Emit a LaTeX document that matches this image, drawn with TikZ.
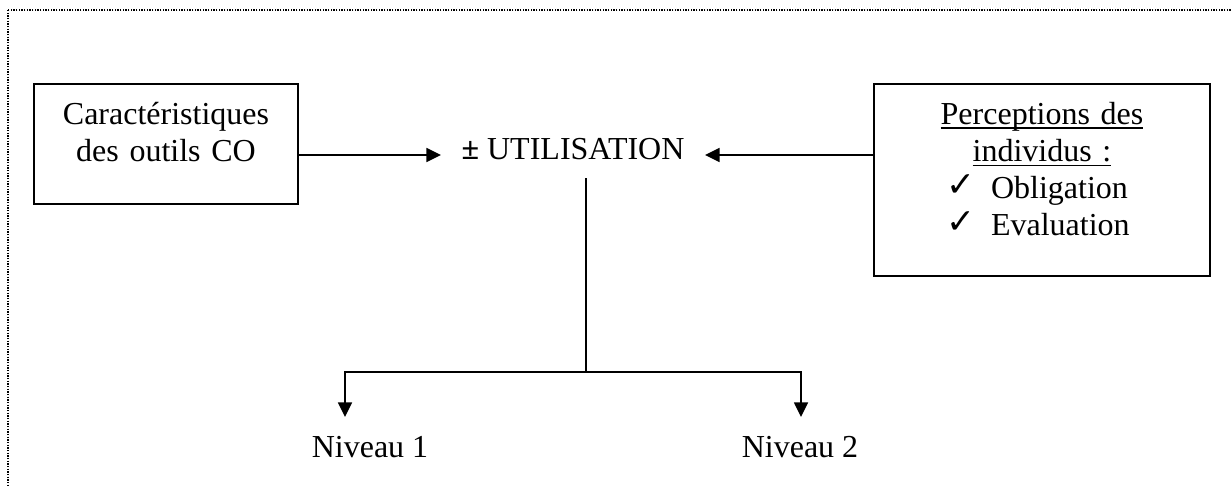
\documentclass[tikz,border=0pt]{standalone}
\usepackage{fontspec}
\setmainfont{Liberation Serif}
\newfontfamily\symbfont{DejaVu Sans}
\usetikzlibrary{arrows.meta}
\newcommand\soulign[1]{\leavevmode\setbox0\hbox{#1}\rlap{\rule[-1.9pt]{\wd0}{0.6pt}}\box0}
\newcommand\coche[1]{\makebox[\linewidth][l]{\hspace{27pt}\makebox[16.9pt][l]{\raisebox{0.6pt}{\symbfont\fontsize{13}{13}\selectfont ✓}}#1}}
\begin{document}
\begin{tikzpicture}[x=0.375pt,y=-0.375pt,font=\fontsize{12}{13.9}\selectfont,
  boite/.style={draw,line width=0.75pt,inner sep=0pt,align=center,anchor=north west,text height=15pt},
  fleche/.style={line width=0.75pt,-{Triangle[length=5.5pt,width=5.2pt]}},
  cadre/.style={line width=0.6pt,dash pattern=on 0.5pt off 0.5pt}]
\useasboundingbox (0,0) rectangle (1231,486);
\clip (0,0) rectangle (1231,486);
\draw[cadre] (8,10) rectangle (1260,520);
\node[boite,text width=99pt,text depth=30pt] (carac) at (33,83) {Caractéristiques\\des outils CO};
\node[boite,text width=126pt,text depth=57pt] (percep) at (873,83) {\soulign{Perceptions des}\\\soulign{individus :}\\\coche{Obligation}\\\coche{Evaluation}};
\node[anchor=base,inner xsep=7.5pt,inner ysep=2.1pt,text height=8pt,text depth=5pt] (util) at (573,159) {\textbf{±} UTILISATION};
\node[anchor=base] (niv1) at (370,457) {Niveau 1};
\node[anchor=base] (niv2) at (800,457) {Niveau 2};
\coordinate (split) at (586,372);
\coordinate (tip1) at (345,417);
\coordinate (tip2) at (801,417);
\draw[fleche] (carac.east |- util.west) -- (util.west);
\draw[fleche] (percep.west |- util.east) -- (util.east);
\draw[line width=0.4pt] (util.south -| split) -- (split);
\draw[fleche] (split) -| (tip1);
\draw[fleche] (split) -| (tip2);
\end{tikzpicture}
\end{document}
